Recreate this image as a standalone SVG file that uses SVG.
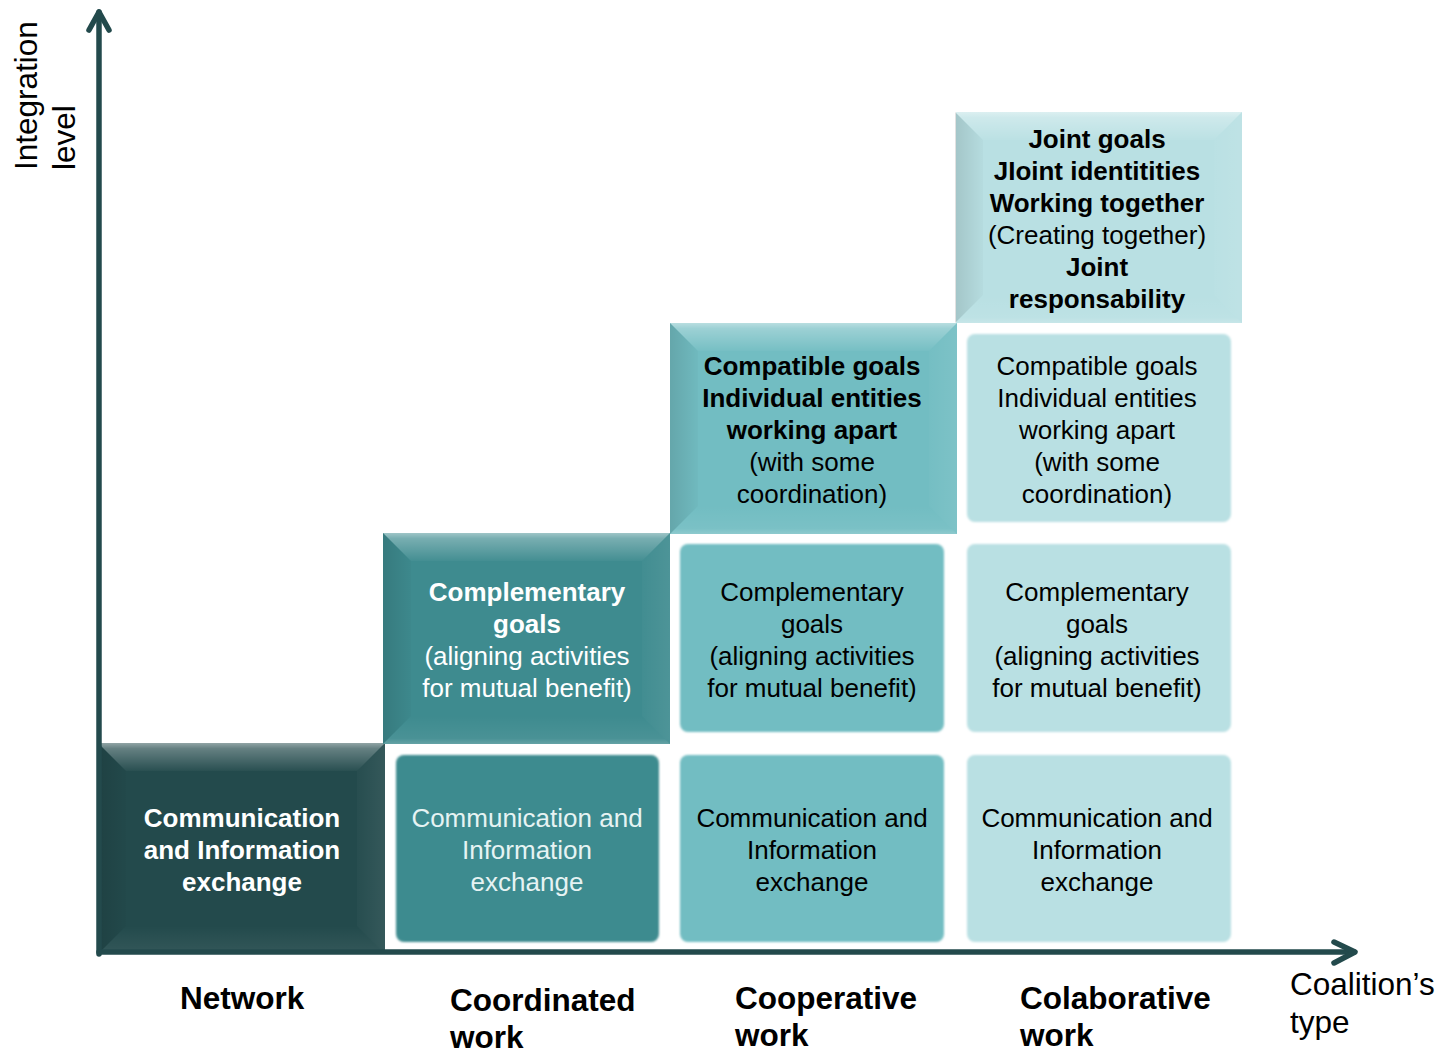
<svg xmlns="http://www.w3.org/2000/svg" xmlns:xlink="http://www.w3.org/1999/xlink" width="1443" height="1053" viewBox="0 0 1443 1053">
<style>
.t{font-family:"Liberation Sans",Arial,sans-serif;font-size:26px;text-anchor:middle}
.b{font-weight:bold}
.lab{font-family:"Liberation Sans",Arial,sans-serif;font-size:31.5px}
.axis{fill:none;stroke:#234a4c;stroke-width:5.5;stroke-linecap:round;stroke-linejoin:round}
.c1{fill:#234a4c}
.c2{fill:#3e8b8f}
.c3{fill:#72bdc2}
.c4{fill:#b9e0e3}
.w{fill:#ffffff}
.lw{fill:#e6f3f3}
.k{fill:#000000}
</style>
<defs>
<linearGradient id="topHi" x1="0" y1="0" x2="0" y2="1">
<stop offset="0" stop-color="#ffffff" stop-opacity="0.5"/>
<stop offset="0.2" stop-color="#ffffff" stop-opacity="0.3"/>
<stop offset="1" stop-color="#ffffff" stop-opacity="0.03"/>
</linearGradient>
<linearGradient id="leftSh" x1="0" y1="0" x2="1" y2="0">
<stop offset="0" stop-color="#000000" stop-opacity="0.12"/>
<stop offset="1" stop-color="#000000" stop-opacity="0.02"/>
</linearGradient>
<linearGradient id="rightHi" x1="0" y1="0" x2="1" y2="0">
<stop offset="0" stop-color="#ffffff" stop-opacity="0.02"/>
<stop offset="1" stop-color="#ffffff" stop-opacity="0.08"/>
</linearGradient>
<linearGradient id="botHi" x1="0" y1="0" x2="0" y2="1">
<stop offset="0" stop-color="#ffffff" stop-opacity="0.0"/>
<stop offset="0.8" stop-color="#ffffff" stop-opacity="0.06"/>
<stop offset="1" stop-color="#ffffff" stop-opacity="0.2"/>
</linearGradient>
<g id="bevelFx">
<polygon points="0,0 287,0 259,28 28,28" fill="url(#topHi)"/>
<polygon points="0,211 287,211 259,183 28,183" fill="url(#botHi)"/>
<polygon points="0,0 28,28 28,183 0,211" fill="url(#leftSh)"/>
<polygon points="287,0 259,28 259,183 287,211" fill="url(#rightHi)"/>
</g>
<filter id="soft" x="-5%" y="-5%" width="110%" height="110%">
<feGaussianBlur stdDeviation="1.3"/>
</filter>
</defs>
<rect width="1443" height="1053" fill="#ffffff"/>

<g id="network-box">
<rect class="c1" x="98" y="743" width="287" height="211"/>
<use xlink:href="#bevelFx" href="#bevelFx" x="98" y="743"/>
<text class="t b w" x="242" y="827">Communication</text>
<text class="t b w" x="242" y="859">and Information</text>
<text class="t b w" x="242" y="891">exchange</text>
</g>

<g id="coordinated-goals">
<rect class="c2" x="383" y="533" width="287" height="211"/>
<use xlink:href="#bevelFx" href="#bevelFx" x="383" y="533"/>
<text class="t b w" x="527" y="601">Complementary</text>
<text class="t b w" x="527" y="633">goals</text>
<text class="t w" x="527" y="665">(aligning activities</text>
<text class="t w" x="527" y="697">for mutual benefit)</text>
</g>

<g id="coordinated-comm">
<rect class="c2" x="396" y="755" width="263" height="187" rx="8" filter="url(#soft)"/>
<text class="t lw" x="527" y="827">Communication and</text>
<text class="t lw" x="527" y="859">Information</text>
<text class="t lw" x="527" y="891">exchange</text>
</g>

<g id="cooperative-goals">
<rect class="c3" x="670" y="323" width="287" height="211"/>
<use xlink:href="#bevelFx" href="#bevelFx" x="670" y="323"/>
<text class="t b k" x="812" y="375">Compatible goals</text>
<text class="t b k" x="812" y="407">Individual entities</text>
<text class="t b k" x="812" y="439">working apart</text>
<text class="t k" x="812" y="471">(with some</text>
<text class="t k" x="812" y="503">coordination)</text>
</g>

<g id="cooperative-complementary">
<rect class="c3" x="680" y="544" width="264" height="188" rx="8" filter="url(#soft)"/>
<text class="t k" x="812" y="601">Complementary</text>
<text class="t k" x="812" y="633">goals</text>
<text class="t k" x="812" y="665">(aligning activities</text>
<text class="t k" x="812" y="697">for mutual benefit)</text>
</g>

<g id="cooperative-comm">
<rect class="c3" x="680" y="755" width="264" height="187" rx="8" filter="url(#soft)"/>
<text class="t k" x="812" y="827">Communication and</text>
<text class="t k" x="812" y="859">Information</text>
<text class="t k" x="812" y="891">exchange</text>
</g>

<g id="collaborative-goals">
<rect class="c4" x="956" y="112" width="286" height="211"/>
<use xlink:href="#bevelFx" href="#bevelFx" x="955" y="112"/>
<text class="t b k" x="1097" y="148">Joint goals</text>
<text class="t b k" x="1097" y="180">JIoint identitities</text>
<text class="t b k" x="1097" y="212">Working together</text>
<text class="t k" x="1097" y="244">(Creating together)</text>
<text class="t b k" x="1097" y="276">Joint</text>
<text class="t b k" x="1097" y="308">responsability</text>
</g>

<g id="collaborative-compatible">
<rect class="c4" x="967" y="334" width="264" height="188" rx="8" filter="url(#soft)"/>
<text class="t k" x="1097" y="375">Compatible goals</text>
<text class="t k" x="1097" y="407">Individual entities</text>
<text class="t k" x="1097" y="439">working apart</text>
<text class="t k" x="1097" y="471">(with some</text>
<text class="t k" x="1097" y="503">coordination)</text>
</g>

<g id="collaborative-complementary">
<rect class="c4" x="967" y="544" width="264" height="188" rx="8" filter="url(#soft)"/>
<text class="t k" x="1097" y="601">Complementary</text>
<text class="t k" x="1097" y="633">goals</text>
<text class="t k" x="1097" y="665">(aligning activities</text>
<text class="t k" x="1097" y="697">for mutual benefit)</text>
</g>

<g id="collaborative-comm">
<rect class="c4" x="967" y="755" width="264" height="187" rx="8" filter="url(#soft)"/>
<text class="t k" x="1097" y="827">Communication and</text>
<text class="t k" x="1097" y="859">Information</text>
<text class="t k" x="1097" y="891">exchange</text>
</g>

<g id="connectors">
<path class="axis" d="M99,954 L99,12"/>
<path class="axis" d="M89,30 L99,12 L109,30"/>
<path class="axis" d="M99,952 L1354,952"/>
<path class="axis" d="M1334,942 L1355,952 L1334,963"/>
</g>

<g id="labels">
<text class="lab" transform="translate(37,170) rotate(-90)">Integration</text>
<text class="lab" transform="translate(75,170) rotate(-90)">level</text>
<text class="lab" x="1290" y="995">Coalition’s</text>
<text class="lab" x="1290" y="1033">type</text>
<text class="lab b" x="180" y="1009">Network</text>
<text class="lab b" x="450" y="1011">Coordinated</text>
<text class="lab b" x="450" y="1048">work</text>
<text class="lab b" x="735" y="1009">Cooperative</text>
<text class="lab b" x="735" y="1046">work</text>
<text class="lab b" x="1020" y="1009">Colaborative</text>
<text class="lab b" x="1020" y="1046">work</text>
</g>
</svg>
